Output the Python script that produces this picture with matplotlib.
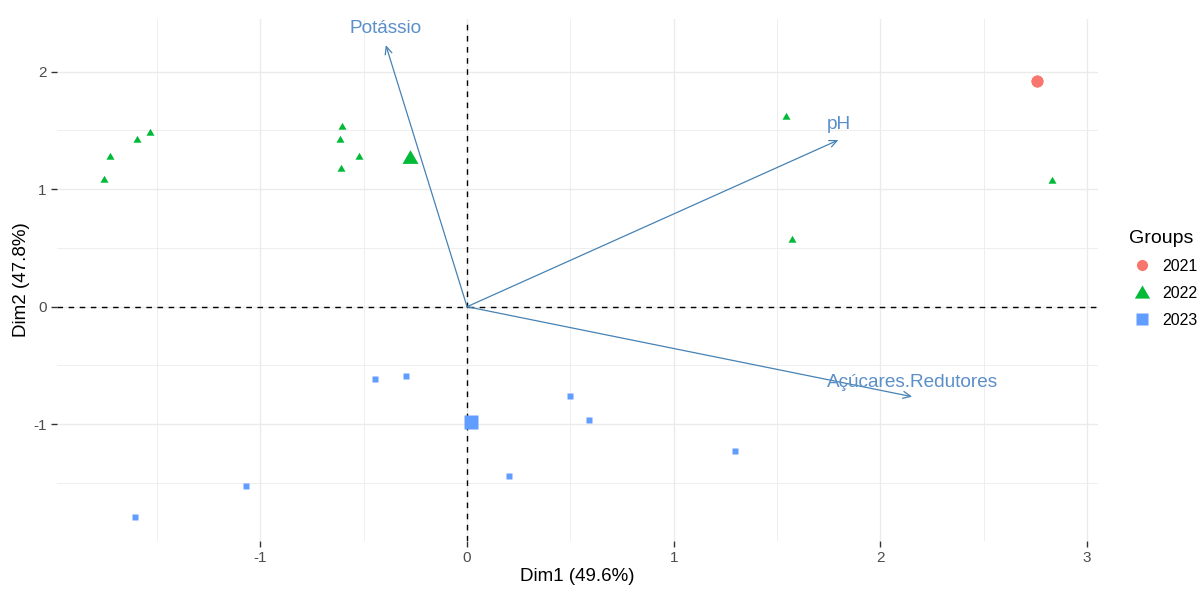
import matplotlib.pyplot as plt
from matplotlib.lines import Line2D

plt.rcParams['font.family'] = ['Liberation Sans', 'DejaVu Sans']

# individuals (PCA scores)
x_2021 = [2.76]
y_2021 = [1.92]
x_2022 = [-1.755, -1.726, -1.595, -1.534, -0.605, -0.616, -0.611, -0.524, 1.542, 2.832, 1.574]
y_2022 = [1.087, 1.285, 1.427, 1.484, 1.538, 1.427, 1.178, 1.285, 1.623, 1.078, 0.576]
x_2023 = [-1.606, -1.068, -0.445, -0.294, 0.498, 0.589, 1.297, 0.202]
y_2023 = [-1.792, -1.529, -0.618, -0.593, -0.757, -0.967, -1.231, -1.441]

# group mean points
mean_x = [2.76, -0.274, 0.018]
mean_y = [1.92, 1.277, -0.984]

# variable arrows
var_names = ['Potássio', 'pH', 'Açúcares.Redutores']
var_x = [-0.393, 1.797, 2.154]
var_y = [2.227, 1.419, -0.766]

groups = ['2021', '2022', '2023']
colors = ['#F8766D', '#00BA38', '#619CFF']

# equilateral-ish triangle like ggplot shape 17
tri = [(-1, -0.8), (1, -0.8), (0, 0.92), (-1, -0.8)]
markers = ['o', tri, 's']
small_ms = [8.6, 5.8, 5]
big_ms = [8.6, 11.5, 9.5]

fig = plt.figure(figsize=(12.01, 5.90), dpi=100)
ax = fig.add_axes([0.0475, 0.0831, 0.9142 - 0.0475, 0.9678 - 0.0831])

# grid like theme_minimal
for v in [-1.5, -1, -0.5, 0, 0.5, 1, 1.5, 2, 2.5, 3]:
    lw = 1.0 if float(v).is_integer() else 0.6
    ax.axvline(v, color='#EBEBEB', lw=lw, zorder=0)
for v in [-1.5, -1, -0.5, 0, 0.5, 1, 1.5, 2]:
    lw = 1.0 if float(v).is_integer() else 0.6
    ax.axhline(v, color='#EBEBEB', lw=lw, zorder=0)

ax.axhline(0, color='black', lw=1, ls=(0, (4, 4)), zorder=1)
ax.axvline(0, color='black', lw=1, ls=(0, (4, 4)), zorder=1)

pts = [(x_2021, y_2021), (x_2022, y_2022), (x_2023, y_2023)]
for i, (xs, ys) in enumerate(pts):
    ax.plot(xs, ys, ls='none', marker=markers[i], ms=small_ms[i],
            color=colors[i], mec='none', zorder=3)
    ax.plot(mean_x[i], mean_y[i], ls='none', marker=markers[i], ms=big_ms[i],
            color=colors[i], mec='none', zorder=3)

label_off = [(0, 0.14), (0.0, 0.13), (0.0, 0.12)]
for name, vx, vy, off in zip(var_names, var_x, var_y, label_off):
    ax.annotate('', xy=(vx, vy), xytext=(0, 0),
                arrowprops=dict(arrowstyle='->,head_length=0.55,head_width=0.25',
                                color='#4682B4', lw=0.9, shrinkA=0, shrinkB=0),
                zorder=4)
    ax.text(vx + off[0], vy + off[1], name, color='#5B8FC9', fontsize=13.7,
            ha='center', va='center', zorder=5)

ax.set_xlim(-1.984, 3.053)
ax.set_ylim(-1.994, 2.449)
ax.set_xticks([-1, 0, 1, 2, 3])
ax.set_xticklabels(['-1', '0', '1', '2', '3'])
ax.set_yticks([-1, 0, 1, 2])
ax.set_yticklabels(['-1', '0', '1', '2'])
ax.tick_params(colors='#333333', labelcolor='#4D4D4D', labelsize=11,
               length=4, width=1)
for s in ax.spines.values():
    s.set_visible(False)

ax.set_xlabel('Dim1 (49.6%)', fontsize=13.5, labelpad=2)
ax.set_ylabel('Dim2 (47.8%)', fontsize=13.5, labelpad=2)

handles = [Line2D([], [], ls='none', marker=markers[i], color=colors[i],
                  mec='none', ms=[8, 11, 8][i]) for i in range(3)]
fig.legend(handles, groups, title='Groups', loc='upper left',
           bbox_to_anchor=(0.928, 0.635), frameon=False, fontsize=11.5,
           title_fontsize=14, handletextpad=0.5, labelspacing=0.75,
           handlelength=1.6, alignment='left')

fig.savefig('out.png', dpi=100)
